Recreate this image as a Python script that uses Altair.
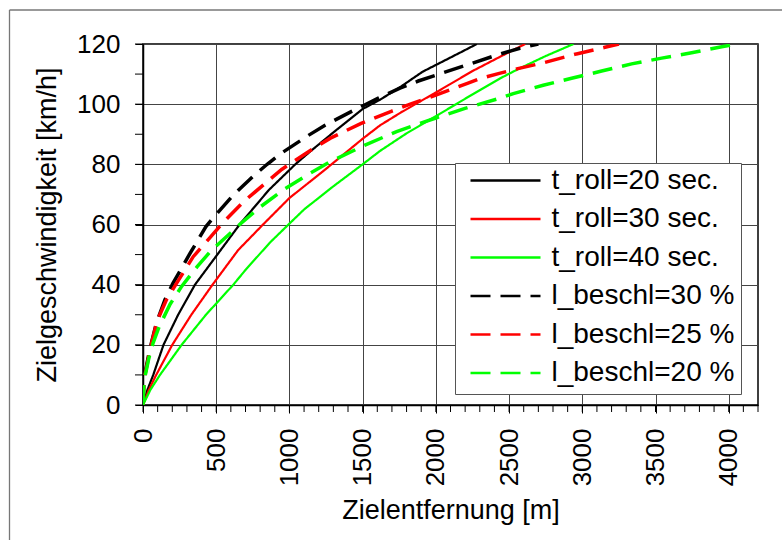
import altair as alt
import pandas as pd

# ---- data ----
names = ["t_roll=20 sec.", "t_roll=30 sec.", "t_roll=40 sec.",
         "l_beschl=30 %", "l_beschl=25 %", "l_beschl=20 %"]
colors = ["#000000", "#ff0000", "#00ff00", "#000000", "#ff0000", "#00ff00"]
solid_names = names[:3]
dashed_names = names[3:]

roll20_x = [0, 30, 70, 140, 240, 355, 500, 660, 860, 1040, 1140, 1320, 1500, 1620, 1760, 1910, 2100, 2280]
roll20_y = [0, 5, 10, 20, 30, 40, 49.5, 60, 71.5, 80, 84.2, 91.4, 98.4, 101.5, 105.8, 110.8, 115.5, 120]

roll30_x = [0, 40, 90, 200, 330, 475, 650, 820, 1000, 1250, 1500, 1620, 1760, 1860, 1990, 2250, 2440, 2610]
roll30_y = [0, 5, 10, 20, 30, 40, 51.5, 60, 68.8, 78.5, 88.5, 93, 97.2, 100, 103.6, 111, 115.8, 120]

roll40_x = [0, 50, 116, 264, 430, 617, 700, 867, 1000, 1100, 1300, 1500, 1620, 1800, 2000, 2200, 2440, 2560, 2750, 2940]
roll40_y = [0, 5, 10, 20, 30, 40, 44.9, 54, 60.3, 65, 72.7, 80, 84.5, 90.3, 96, 101.8, 108.6, 111.6, 116, 120]

b30_x = [0, 5, 14, 36, 59, 93, 150, 205, 321, 430, 490, 617, 765, 850, 935, 1129, 1243, 1425, 1607, 1755, 1880, 2210, 2415, 2574, 2700]
b30_y = [0, 6.6, 10.6, 16, 21, 27.5, 35, 40.5, 50.4, 59.3, 62.8, 69.8, 76.6, 80.1, 83.4, 89.6, 93, 97.6, 102, 105.3, 107.7, 113, 116.3, 118.6, 120]

b25_x = [0, 5, 15, 37, 60, 97, 160, 230, 343, 450, 540, 685, 830, 947, 1130, 1280, 1490, 1700, 1835, 2000, 2220, 2300, 2440, 2560, 2745, 2960, 3155, 3250]
b25_y = [0, 6.3, 10.3, 15.6, 20.8, 28, 35, 40.5, 49.3, 55.2, 60.3, 67.5, 73.5, 78.3, 84.2, 88.7, 93.6, 97.7, 100.2, 103, 107, 108.5, 110.3, 111.8, 113.9, 116.7, 118.9, 120]

b20_x = [0, 6, 17, 40, 68, 110, 185, 265, 370, 469, 594, 660, 800, 958, 1140, 1280, 1516, 1732, 2000, 2199, 2438, 2529, 2733, 2927, 3132, 3337, 3542, 3747, 3952, 4065]
b20_y = [0, 6.3, 10.3, 15.6, 20.5, 26, 33.5, 39.5, 46, 51.5, 57, 60, 65.8, 71.5, 77, 80.9, 86.4, 90.9, 95.4, 98.6, 102, 103.5, 106.3, 108.6, 111, 113.4, 115.3, 117.1, 119.1, 120]

x_ticks = [0, 500, 1000, 1500, 2000, 2500, 3000, 3500, 4000]
y_ticks = [0, 20, 40, 60, 80, 100, 120]
x_minor = list(range(0, 4201, 100))
y_minor = list(range(0, 121, 10))

series_xy = [(roll20_x, roll20_y), (roll30_x, roll30_y), (roll40_x, roll40_y),
             (b30_x, b30_y), (b25_x, b25_y), (b20_x, b20_y)]

rows = []
for name, (xs, ys) in zip(names, series_xy):
    for i, (xv, yv) in enumerate(zip(xs, ys)):
        rows.append({"series": name, "dist": xv, "speed": yv, "idx": i})
df = pd.DataFrame(rows)
df_solid = df[df["series"].isin(solid_names)]
df_dashed = df[df["series"].isin(dashed_names)]

FONT = "Liberation Sans"
W, H = 615, 361

xscale = alt.Scale(domain=[0, 4200], nice=False, zero=False)
yscale = alt.Scale(domain=[0, 120], nice=False, zero=False)

x_enc = alt.X("dist:Q", scale=xscale,
              axis=alt.Axis(values=x_ticks, format="d", labelAngle=270, labelFontSize=26,
                            labelPadding=15, tickSize=8, grid=True, title="Zielentfernung [m]",
                            titleFontSize=27, titleX=W / 2, titleY=113,
                            titleBaseline="alphabetic", titleAlign="center"))
y_enc = alt.Y("speed:Q", scale=yscale,
              axis=alt.Axis(values=y_ticks, format="d", labelFontSize=26, labelPadding=15,
                            tickSize=8, grid=True, title="Zielgeschwindigkeit [km/h]",
                            titleFontSize=27, titleX=-88, titleY=H / 2, titleAngle=270,
                            titleBaseline="alphabetic", titleAlign="center"))
color_enc = alt.Color("series:N", scale=alt.Scale(domain=names, range=colors),
                      legend=alt.Legend(title=None))
dash_enc = alt.StrokeDash("series:N",
                          scale=alt.Scale(domain=names,
                                          range=[[1, 0], [1, 0], [1, 0], [20, 10], [20, 10], [20, 10]]),
                          legend=alt.Legend(title=None))

solid = alt.Chart(df_solid).mark_line(clip=True, strokeWidth=2.2).encode(
    x=x_enc, y=y_enc, color=color_enc, strokeDash=dash_enc, order="idx:Q")
dashed = alt.Chart(df_dashed).mark_line(clip=True, strokeWidth=3.5).encode(
    x=x_enc, y=y_enc, color=color_enc, strokeDash=dash_enc, order="idx:Q")

xminor = alt.Chart(pd.DataFrame({"v": x_minor})).mark_rule(color="black", strokeWidth=1).encode(
    x=alt.X("v:Q", scale=xscale), y=alt.value(H), y2=alt.value(H + 7))
yminor = alt.Chart(pd.DataFrame({"v": y_minor})).mark_rule(color="black", strokeWidth=1).encode(
    y=alt.Y("v:Q", scale=yscale), x=alt.value(-8), x2=alt.value(0))

frame_df = pd.DataFrame({"a": [0]})
frame_top = alt.Chart(frame_df).mark_rule(color="#777777", strokeWidth=1.3).encode(
    x=alt.value(-133.5), x2=alt.value(782 - 143 + 5), y=alt.value(-34))
frame_left = alt.Chart(frame_df).mark_rule(color="#777777", strokeWidth=1.3).encode(
    x=alt.value(-133.5), y=alt.value(-34), y2=alt.value(540 - 44 + 5))

chart = alt.layer(xminor, yminor, solid, dashed, frame_top, frame_left).properties(
    width=W, height=H,
    autosize=alt.AutoSizeParams(type="none"),
    padding={"left": 143, "top": 44, "right": 782 - 143 - W, "bottom": 540 - 44 - H},
).configure_view(
    stroke="black", strokeWidth=1.5
).configure_axis(
    labelFont=FONT, titleFont=FONT, labelColor="black", titleColor="black",
    titleFontWeight="normal", domainColor="black", domainWidth=1.5,
    tickColor="black", tickWidth=1, gridColor="#444444", gridWidth=1, gridOpacity=1,
).configure_legend(
    orient="none", legendX=312, legendY=119, direction="vertical",
    padding=6.5, rowPadding=10.5, clipHeight=22, labelLimit=0,
    symbolType="stroke", symbolSize=4900, symbolOffset=7.5, symbolStrokeWidth=2.5,
    labelFont=FONT, labelFontSize=28, labelColor="black", labelOffset=9.5,
    strokeColor="#555555", fillColor="white", cornerRadius=0,
)

chart.save("out.html", embed_options={"renderer": "svg", "actions": False})
